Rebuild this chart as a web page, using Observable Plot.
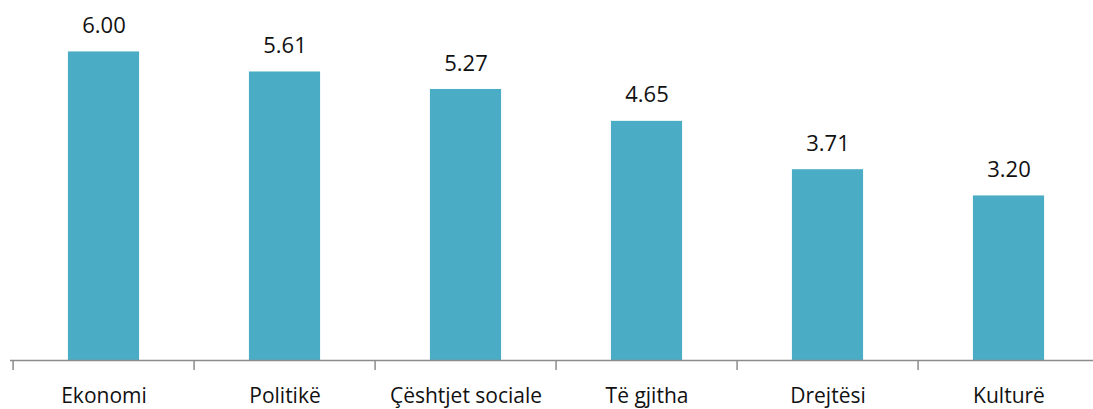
<!DOCTYPE html>
<html>
<head>
<meta charset="utf-8">
<script src="https://cdn.jsdelivr.net/npm/d3@7"></script>
<script src="https://cdn.jsdelivr.net/npm/@observablehq/plot@0.6"></script>
<style>
  html, body { margin: 0; padding: 0; background: #fff; }
  #chart svg { display: block; }
</style>
</head>
<body>
<div id="chart"></div>
<script>
const categories = ["Ekonomi", "Politikë", "Çështjet sociale", "Të gjitha", "Drejtësi", "Kulturë"];
const values = [6.00, 5.61, 5.27, 4.65, 3.71, 3.20];

const data = categories.map((c, i) => ({category: c, value: values[i]}));

const W = 1093, H = 409;
const xRange = [10, 1101];
const step = (xRange[1] - xRange[0]) / categories.length;
const barW = 72;
const inset = (step - barW) / 2;
const font = "'Open Sans', sans-serif";

const chart = Plot.plot({
  width: W,
  height: H,
  marginTop: 0,
  marginLeft: 10,
  marginRight: 0,
  marginBottom: 49,
  style: {fontFamily: font, fontSize: "21px", color: "#111", background: "#fff"},
  x: {domain: categories, range: xRange, padding: 0},
  y: {domain: [0, 7], axis: null},
  marks: [
    Plot.barY(data, {x: "category", y: "value", fill: "#4BACC6", insetLeft: inset, insetRight: inset}),
    Plot.ruleY([0], {stroke: "#8c8c8c", strokeWidth: 1.5}),
    Plot.ruleX(categories, {x: d => d, dx: -step / 2, y1: 0, y2: 0, insetBottom: -10, stroke: "#8c8c8c", strokeWidth: 1.5}),
    Plot.axisX({tickSize: 0, tickPadding: 28, fontSize: 21, fill: "#111", label: null}),
    Plot.text(data, {x: "category", y: "value", text: d => d.value.toFixed(2), lineAnchor: "middle", dy: -26, fontSize: 22, fill: "#111"})
  ]
});
document.getElementById("chart").append(chart);
</script>
</body>
</html>
